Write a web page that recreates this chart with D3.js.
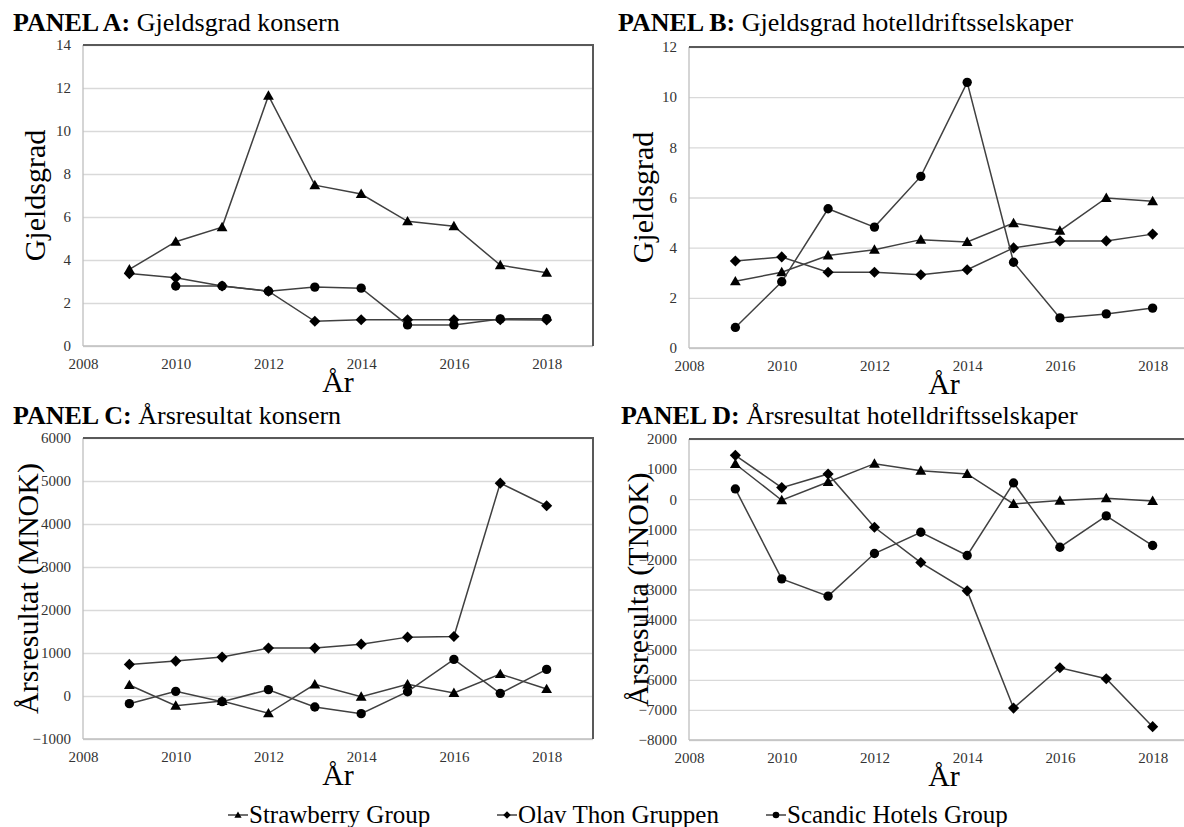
<!DOCTYPE html>
<html>
<head>
<meta charset="utf-8">
<script src="https://cdn.jsdelivr.net/npm/d3@7"></script>
<style>
  body { margin: 0; background: #fff; }
  svg, svg text { font-family: 'Liberation Serif', 'Times New Roman', Times, 'DejaVu Serif', serif; }
</style>
</head>
<body>
<script>
// ---- data ----
const years = [2009, 2010, 2011, 2012, 2013, 2014, 2015, 2016, 2017, 2018];
const xTicks = [2008, 2010, 2012, 2014, 2016, 2018];
const seriesNames = ["Strawberry Group", "Olav Thon Gruppen", "Scandic Hotels Group"];

// Panel A: Gjeldsgrad konsern
const strawA = [3.56, 4.85, 5.53, 11.64, 7.48, 7.07, 5.80, 5.57, 3.76, 3.41];
const olavA = [3.37, 3.17, 2.79, 2.55, 1.15, 1.22, 1.22, 1.22, 1.22, 1.21];
const scandicA = [null, 2.79, 2.79, 2.55, 2.74, 2.69, 0.98, 0.98, 1.26, 1.27];
const yTicksA = [0, 2, 4, 6, 8, 10, 12, 14];

// Panel B: Gjeldsgrad hotelldriftsselskaper
const strawB = [2.66, 3.02, 3.69, 3.92, 4.32, 4.23, 4.98, 4.68, 5.98, 5.85];
const olavB = [3.47, 3.63, 3.02, 3.02, 2.92, 3.12, 3.99, 4.27, 4.27, 4.54];
const scandicB = [0.82, 2.64, 5.55, 4.82, 6.84, 10.59, 3.42, 1.20, 1.36, 1.59];
const yTicksB = [0, 2, 4, 6, 8, 10, 12];

// Panel C: Årsresultat konsern (MNOK)
const strawC = [255, -224, -116, -402, 271, -15, 271, 70, 510, 162];
const olavC = [735, 812, 905, 1114, 1114, 1206, 1369, 1384, 4950, 4424];
const scandicC = [-178, 108, -131, 147, -255, -410, 100, 851, 62, 619];
const yTicksC = [-1000, 0, 1000, 2000, 3000, 4000, 5000, 6000];

// Panel D: Årsresultat hotelldriftsselskaper (TNOK)
const strawD = [1170, -35, 573, 1181, 949, 838, -157, -46, 31, -58];
const olavD = [1458, 385, 838, -932, -2104, -3045, -6939, -5600, -5965, -7558];
const scandicD = [341, -2646, -3221, -1805, -1097, -1871, 540, -1595, -555, -1539];
const yTicksD = [-8000, -7000, -6000, -5000, -4000, -3000, -2000, -1000, 0, 1000, 2000];

// ---- layout ----
const W = 1184, H = 827;
const plotW = 510, plotH = 301;
const FONT = "'Liberation Serif', 'Times New Roman', Times, 'DejaVu Serif', serif";

const panels = [
  { label: "PANEL A:", title: "Gjeldsgrad konsern", yTitle: "Gjeldsgrad", series: [strawA, olavA, scandicA], ticks: yTicksA,
    left: 83, top: 45, titleX: 13, titleY: 31, yTitleOff: 49 },
  { label: "PANEL B:", title: "Gjeldsgrad hotelldriftsselskaper", yTitle: "Gjeldsgrad", series: [strawB, olavB, scandicB], ticks: yTicksB,
    left: 689, top: 47, titleX: 618, titleY: 31, yTitleOff: 47 },
  { label: "PANEL C:", title: "Årsresultat konsern", yTitle: "Årsresultat (MNOK)", series: [strawC, olavC, scandicC], ticks: yTicksC,
    left: 83, top: 438, titleX: 13, titleY: 424, yTitleOff: 56 },
  { label: "PANEL D:", title: "Årsresultat hotelldriftsselskaper", yTitle: "Årsresulta (TNOK)", series: [strawD, olavD, scandicD], ticks: yTicksD,
    left: 689, top: 439, titleX: 621, titleY: 424, yTitleOff: 52 }
];

const svg = d3.select('body')
  .append('svg')
  .attr('width', W)
  .attr('height', H)
  .attr('font-family', FONT);

// marker shapes: triangle, diamond, circle
const markerPath = (i, s) => {
  if (i === 0) return `M0,${-s * 0.6}L${s * 0.6},${s * 0.45}L${-s * 0.6},${s * 0.45}Z`;
  if (i === 1) return `M0,${-s * 0.62}L${s * 0.62},0L0,${s * 0.62}L${-s * 0.62},0Z`;
  return d3.arc()({ innerRadius: 0, outerRadius: s * 0.55, startAngle: 0, endAngle: 2 * Math.PI });
};

panels.forEach(p => {
  const g = svg.append('g');
  const x = d3.scaleLinear().domain([2008, 2019]).range([p.left, p.left + plotW]);
  const y = d3.scaleLinear().domain(d3.extent(p.ticks)).range([p.top + plotH, p.top]);
  const right = p.left + plotW, bottom = p.top + plotH;

  // gridlines + y labels
  const yAxis = g.append('g')
    .attr('transform', `translate(${p.left},0)`)
    .call(d3.axisLeft(y).tickValues(p.ticks).tickSize(-plotW).tickPadding(12).tickFormat(d3.format('d')))
    .attr('font-family', FONT);
  yAxis.select('.domain').remove();
  yAxis.selectAll('line').attr('stroke', '#d9d9d9').attr('stroke-width', 1.3);
  yAxis.selectAll('text').attr('font-size', 15).attr('fill', '#333');

  // x labels
  const xAxis = g.append('g')
    .attr('transform', `translate(0,${bottom})`)
    .call(d3.axisBottom(x).tickValues(xTicks).tickSize(0).tickPadding(12).tickFormat(d3.format('d')))
    .attr('font-family', FONT);
  xAxis.select('.domain').remove();
  xAxis.selectAll('text').attr('font-size', 15).attr('fill', '#333');

  // frame: light left/bottom, dark top/right
  g.append('line').attr('x1', p.left).attr('x2', p.left).attr('y1', p.top).attr('y2', bottom)
    .attr('stroke', '#bfbfbf').attr('stroke-width', 1.3);
  g.append('line').attr('x1', p.left).attr('x2', right).attr('y1', bottom).attr('y2', bottom)
    .attr('stroke', '#bfbfbf').attr('stroke-width', 1.3);
  g.append('path').attr('d', `M${p.left},${p.top}H${right}V${bottom}`)
    .attr('fill', 'none').attr('stroke', '#595959').attr('stroke-width', 2);

  // series lines and markers
  const line = d3.line()
    .defined(d => d.v != null)
    .x(d => x(d.year))
    .y(d => y(d.v));

  p.series.forEach((vals, i) => {
    const pts = years.map((yr, j) => ({ year: yr, v: vals[j] }));
    g.append('path')
      .datum(pts)
      .attr('d', line)
      .attr('fill', 'none')
      .attr('stroke', '#404040')
      .attr('stroke-width', 1.5);
    g.selectAll(null)
      .data(pts.filter(d => d.v != null))
      .join('path')
      .attr('transform', d => `translate(${x(d.year)},${y(d.v)})`)
      .attr('d', markerPath(i, i === 2 ? 8.5 : 9))
      .attr('fill', '#000');
  });

  // panel title
  const t = svg.append('text')
    .attr('x', p.titleX).attr('y', p.titleY)
    .attr('font-size', 26).attr('fill', '#000');
  t.append('tspan').attr('font-weight', 'bold').text(p.label);
  t.append('tspan').text(' ' + p.title);

  // y title
  svg.append('text')
    .attr('transform', `translate(${p.left - p.yTitleOff},${(p.top + bottom) / 2}) rotate(-90)`)
    .attr('text-anchor', 'middle')
    .attr('dominant-baseline', 'central')
    .attr('font-size', 30)
    .text(p.yTitle);

  // x title
  svg.append('text')
    .attr('x', x(2013.5)).attr('y', bottom + 46)
    .attr('text-anchor', 'middle')
    .attr('font-size', 30)
    .text('År');
});

// legend
const legend = svg.append('g');
seriesNames.forEach((name, i) => {
  const lx = 228 + i * 269, ly = 815;
  legend.append('line').attr('x1', lx).attr('x2', lx + 20).attr('y1', ly).attr('y2', ly)
    .attr('stroke', '#404040').attr('stroke-width', 1.5);
  legend.append('path').attr('transform', `translate(${lx + 10},${ly})`)
    .attr('d', markerPath(i, 6)).attr('fill', '#000');
  legend.append('text').attr('x', lx + 21).attr('y', ly + 8)
    .attr('font-size', 25).text(name);
});
</script>
</body>
</html>
